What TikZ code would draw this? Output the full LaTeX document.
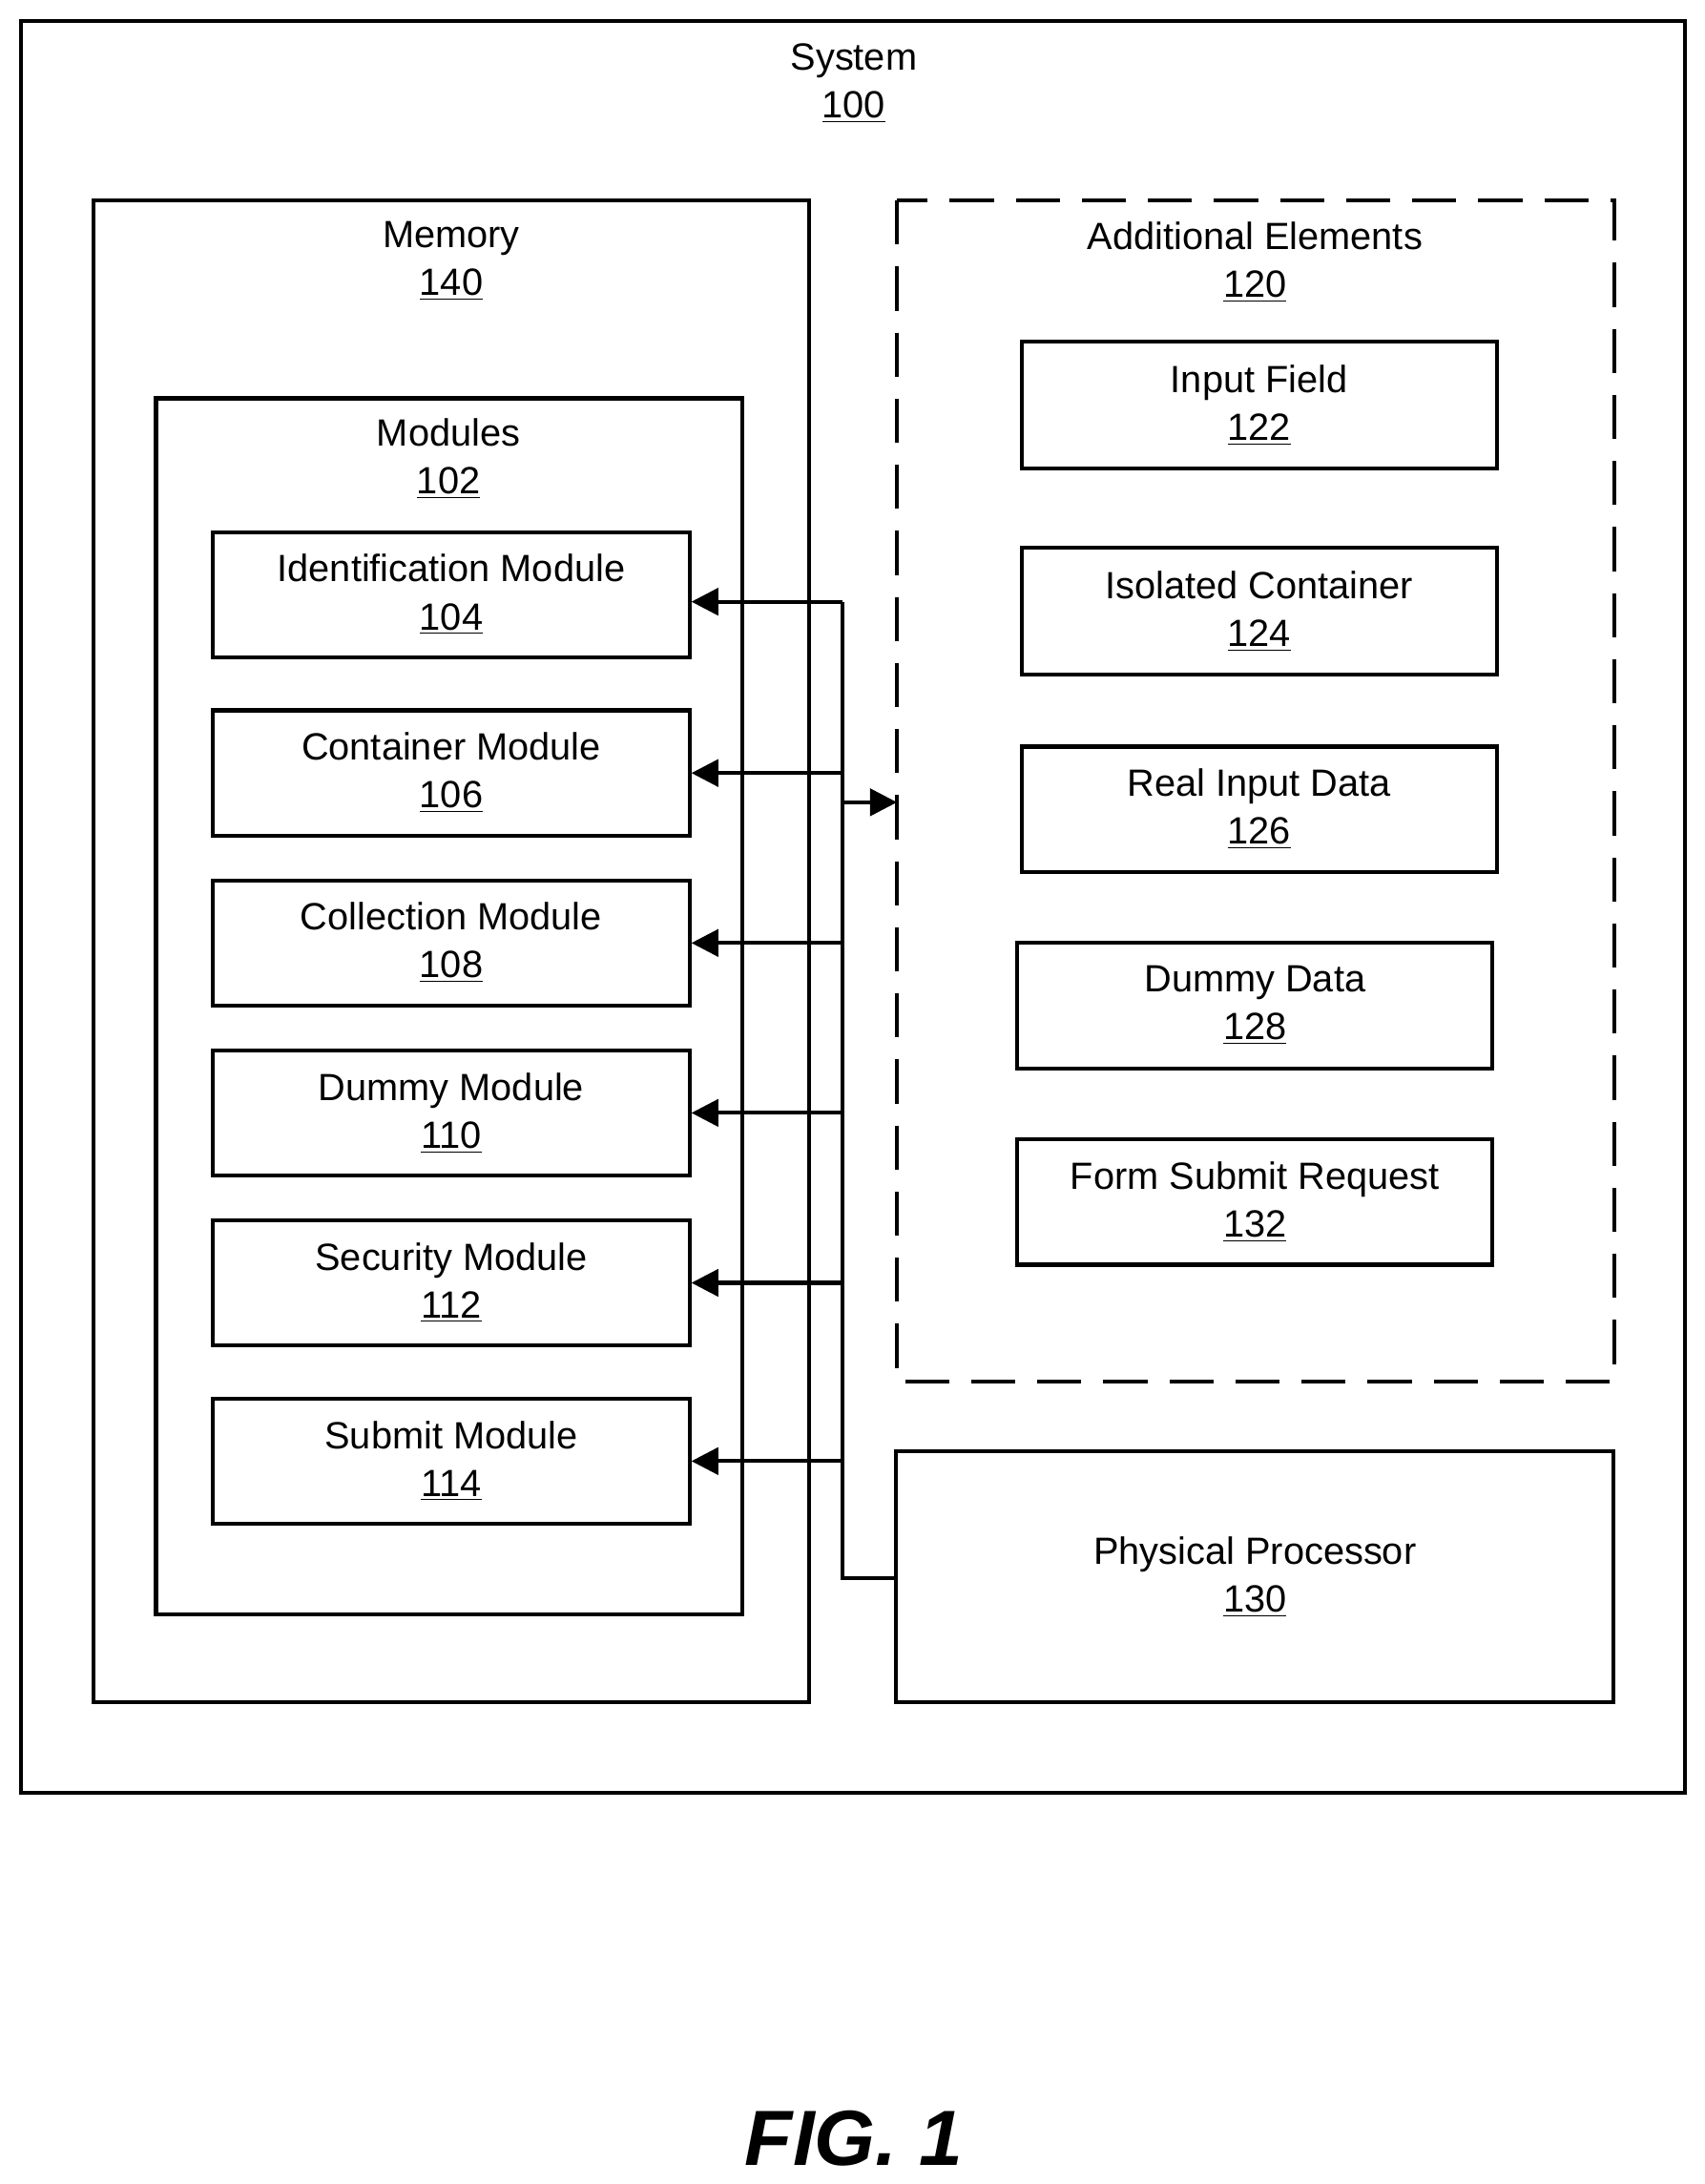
\documentclass[tikz,border=0pt]{standalone}
\usepackage{fontspec}
\setmainfont{Liberation Sans}
\usetikzlibrary{positioning, arrows.meta}

\tikzset{
    box/.style={draw, line width=1.6pt, align=center, inner sep=0pt,
        font=\fontsize{15.5}{19.5}\selectfont},
    title/.style={align=center, anchor=north, inner sep=0pt,
        font=\fontsize{15.5}{19.5}\selectfont},
    link/.style={line width=1.6pt, -{Triangle[length=11pt,width=11pt]}},
}

\begin{document}
\begin{tikzpicture}[x=0.02cm, y=-0.02cm]
        \useasboundingbox (0,0) rectangle (1224,1568);

        % Containers
        \draw[line width=1.6pt] (15,15) rectangle (1210,1287);
        \node[title] (system) at (613,31) {System\\\underline{100}};

        \draw[line width=1.6pt] (67,144) rectangle (581,1222);
        \node[title] (memory) at (324,159) {Memory\\\underline{140}};

        \draw[line width=1.6pt] (112,286) rectangle (533,1159);
        \node[title] (modules) at (322,300) {Modules\\\underline{102}};

        \draw[line width=1.6pt, dash pattern=on 18pt off 9pt] (644,144) rectangle (1159,992);
        \node[title] (additional) at (901,159) {Additional Elements\\\underline{120}};
        \coordinate (addin) at (644,576);

        % Module blocks
        \node[box, minimum width=342*0.02cm, minimum height=90*0.02cm] (m104) at (324,427) {Identification Module\\\underline{104}};
        \node[box, minimum width=342*0.02cm, minimum height=90*0.02cm] (m106) at (324,555) {Container Module\\\underline{106}};
        \node[box, minimum width=342*0.02cm, minimum height=90*0.02cm] (m108) at (324,677) {Collection Module\\\underline{108}};
        \node[box, minimum width=342*0.02cm, minimum height=90*0.02cm] (m110) at (324,799) {Dummy Module\\\underline{110}};
        \node[box, minimum width=342*0.02cm, minimum height=90*0.02cm] (m112) at (324,921) {Security Module\\\underline{112}};
        \node[box, minimum width=342*0.02cm, minimum height=90*0.02cm] (m114) at (324,1049) {Submit Module\\\underline{114}};

        % Additional element blocks
        \node[box, minimum width=341*0.02cm, minimum height=91*0.02cm] (e122) at (904,291) {Input Field\\\underline{122}};
        \node[box, minimum width=341*0.02cm, minimum height=91*0.02cm] (e124) at (904,439) {Isolated Container\\\underline{124}};
        \node[box, minimum width=341*0.02cm, minimum height=90*0.02cm] (e126) at (904,581) {Real Input Data\\\underline{126}};
        \node[box, minimum width=341*0.02cm, minimum height=90*0.02cm] (e128) at (901,722) {Dummy Data\\\underline{128}};
        \node[box, minimum width=341*0.02cm, minimum height=90*0.02cm] (e132) at (901,863) {Form Submit Request\\\underline{132}};

        % Processor
        \node[box, minimum width=515*0.02cm, minimum height=180*0.02cm] (cpu) at (901,1132) {Physical Processor\\\underline{130}};

        % Bus
        \coordinate (bustop) at (605,432);
        \coordinate (busbot) at (605,1133);
        \draw[line width=1.6pt] (bustop) -- (busbot) -- (busbot -| cpu.west);
        \draw[link] (bustop) -- (bustop -| m104.east);
        \foreach \m in {m106,m108,m110,m112,m114}
            \draw[link] (bustop |- \m.east) -- (\m.east);
        \draw[link] (bustop |- addin) -- (addin);

        \node[font=\bfseries\itshape\fontsize{32}{38}\selectfont] (fig) at (613,1535) {FIG. 1};
\end{tikzpicture}
\end{document}
